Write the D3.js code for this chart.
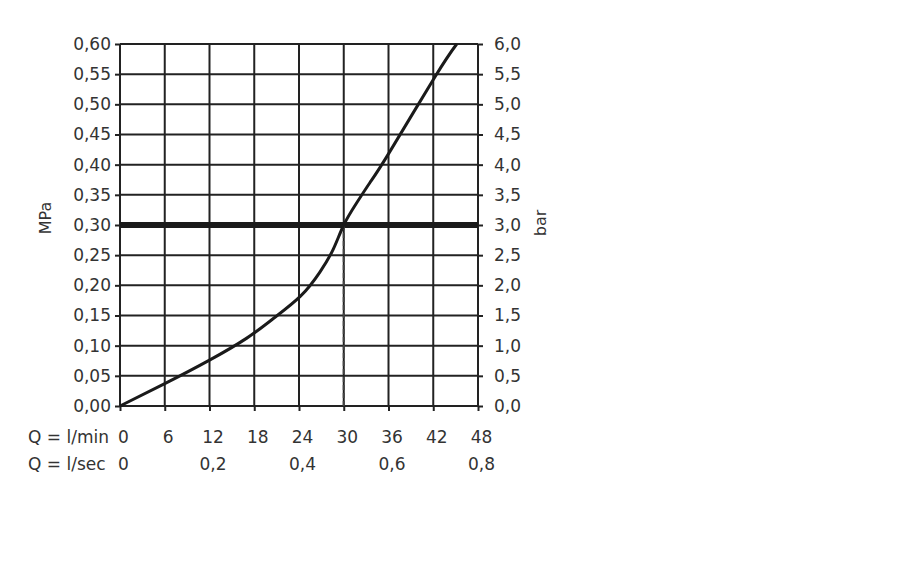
<!DOCTYPE html>
<html><head><meta charset="utf-8">
<script src="https://cdn.jsdelivr.net/npm/d3@7"></script>
<style>
html,body{margin:0;padding:0;background:#fff;}
svg text{font-family:"DejaVu Sans",sans-serif;fill:#333;}
</style></head>
<body>
<svg id="chart" width="900" height="572"></svg>
<script>
// Data
const flowLpm   = [0, 6, 12, 17, 20.56, 24.2, 26.8, 28.6, 30, 31.7, 33.5, 36.1, 42.2, 45.15];
const pressMPa  = [0, 0.037, 0.076, 0.1125, 0.145, 0.182, 0.222, 0.260, 0.300, 0.336, 0.370, 0.420, 0.545, 0.600];
const mpaTicks  = [0,0.05,0.10,0.15,0.20,0.25,0.30,0.35,0.40,0.45,0.50,0.55,0.60];
const barTicks  = [0,0.5,1,1.5,2,2.5,3,3.5,4,4.5,5,5.5,6];
const minTicks  = [0,6,12,18,24,30,36,42,48];
const secTicks  = [0,12,24,36,48];
const secLabels = ["0","0,2","0,4","0,6","0,8"];
const refPressure = 0.30;
const refFlow = 30;

const svg = d3.select("#chart");
const x = d3.scaleLinear().domain([0,48]).range([120,478]);
const y = d3.scaleLinear().domain([0,0.6]).range([406,44]);
const yBar = d3.scaleLinear().domain([0,6]).range([406,44]);
const ink = "#222";
const fs = "17px";
const ff = "'DejaVu Sans', sans-serif";

// grid
svg.append("g").selectAll("line").data(minTicks).join("line")
  .attr("x1",d=>x(d)).attr("x2",d=>x(d)).attr("y1",y(0)).attr("y2",y(0.6))
  .attr("stroke",ink).attr("stroke-width",2);
svg.append("g").selectAll("line").data(mpaTicks).join("line")
  .attr("x1",x(0)).attr("x2",x(48)).attr("y1",d=>y(d)).attr("y2",d=>y(d))
  .attr("stroke",ink).attr("stroke-width",2);

// axes
const fmt2 = d => d3.format(".2f")(d).replace(".",",");
const fmt1 = d => d3.format(".1f")(d).replace(".",",");
const gl = svg.append("g").attr("transform",`translate(${x(0)},0)`)
  .call(d3.axisLeft(y).tickValues(mpaTicks).tickSize(5).tickPadding(4).tickFormat(fmt2));
const gr = svg.append("g").attr("transform",`translate(${x(48)},0)`)
  .call(d3.axisRight(yBar).tickValues(barTicks).tickSize(5).tickPadding(11).tickFormat(fmt1));
const gb = svg.append("g").attr("transform",`translate(0,${y(0)})`)
  .call(d3.axisBottom(x).tickValues(minTicks).tickSize(5).tickPadding(20).tickFormat(d=>String(d)));
const gb2 = svg.append("g").attr("transform",`translate(0,${y(0)})`)
  .call(d3.axisBottom(x).tickValues(secTicks).tickSize(0).tickPadding(52).tickFormat((d,i)=>secLabels[i]));
gb2.selectAll("line").remove();
[gl,gr,gb,gb2].forEach(g=>{
  g.select(".domain").remove();
  g.selectAll("line").attr("stroke",ink).attr("stroke-width",2);
  g.selectAll("text").attr("font-size",fs).attr("fill","#333").attr("font-family",ff);
});
gb.selectAll("text").attr("dx",3);
gb2.selectAll("text").attr("dx",3);

// reference lines
svg.append("line").attr("x1",x(0)).attr("x2",x(48)).attr("y1",y(refPressure)).attr("y2",y(refPressure))
  .attr("stroke","#1a1a1a").attr("stroke-width",6);
svg.append("line").attr("x1",x(refFlow)).attr("x2",x(refFlow)).attr("y1",y(refPressure)).attr("y2",y(0))
  .attr("stroke","#444").attr("stroke-width",2).attr("stroke-dasharray","5,3");

// curve
const pts = flowLpm.map((q,i)=>[q,pressMPa[i]]);
svg.append("path").datum(pts)
  .attr("d",d3.line().x(d=>x(d[0])).y(d=>y(d[1])).curve(d3.curveNatural))
  .attr("fill","none").attr("stroke","#1a1a1a").attr("stroke-width",3);

// labels
svg.append("text").attr("transform","translate(51,218) rotate(-90)").attr("text-anchor","middle")
  .attr("font-size","16px").text("MPa");
svg.append("text").attr("transform","translate(546,223) rotate(-90)").attr("text-anchor","middle")
  .attr("font-size","16px").text("bar");
svg.append("text").attr("x",28).attr("y",443).attr("font-size",fs).text("Q = l/min");
svg.append("text").attr("x",28).attr("y",470).attr("font-size",fs).text("Q = l/sec");
</script>
</body></html>
